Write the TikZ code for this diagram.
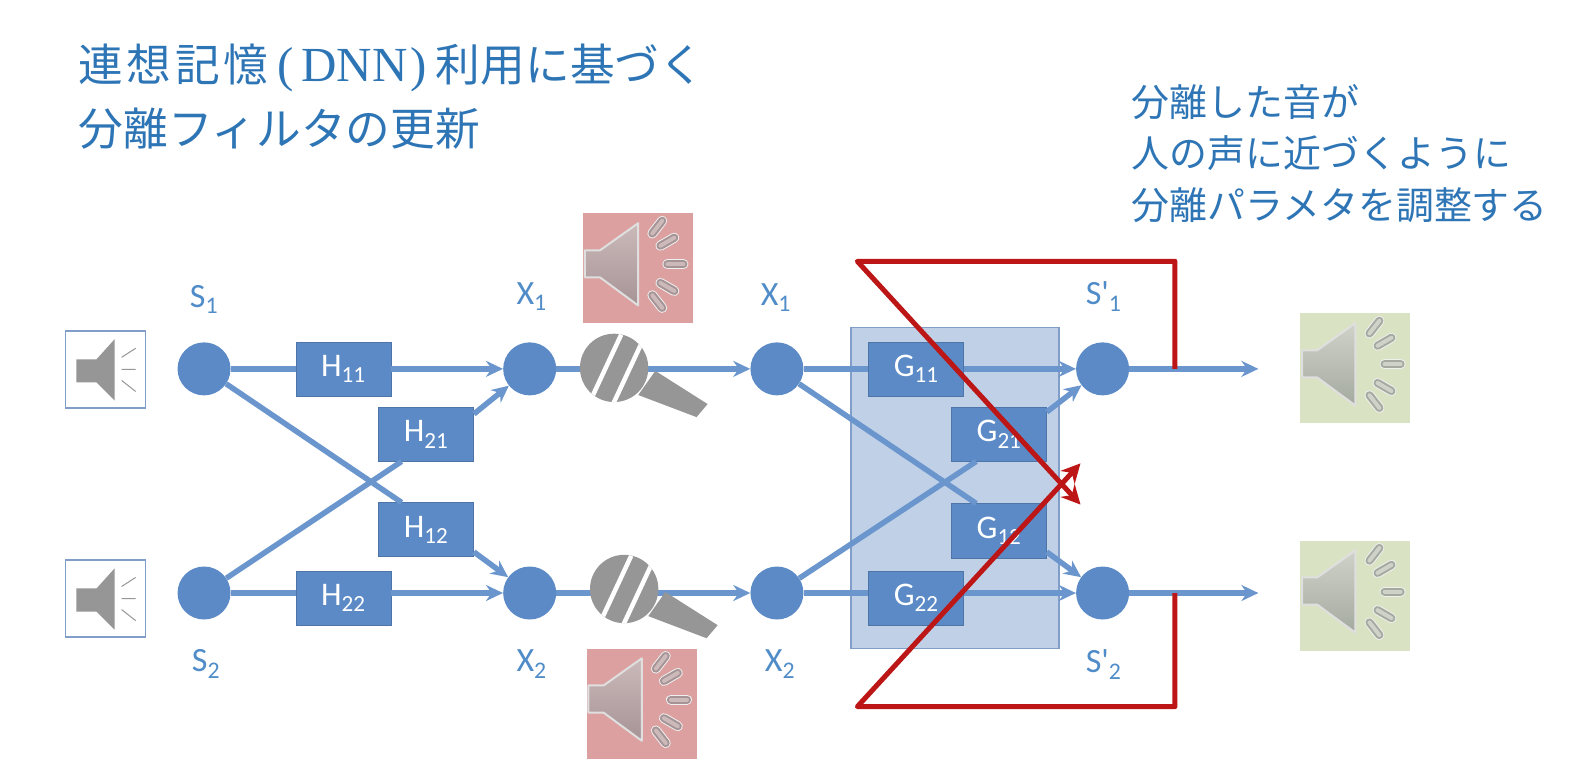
\documentclass[tikz,border=0pt]{standalone}
\usepackage{fontspec}
\setmainfont{Carlito}
\newfontfamily\cjk{Noto Sans CJK JP}
\newfontfamily\cjkwide[LetterSpace=8]{Noto Sans CJK JP}
\newfontfamily\titleser{Liberation Serif}
\usepackage{tikz}
\usetikzlibrary{arrows.meta}
\definecolor{node}{RGB}{91, 138, 198}
\definecolor{wire}{RGB}{107, 150, 205}
\definecolor{panel}{RGB}{192, 209, 231}
\definecolor{panelline}{RGB}{128, 158, 200}
\definecolor{heading}{RGB}{46, 117, 182}
\definecolor{lab}{RGB}{80, 140, 200}
\definecolor{redline}{RGB}{188, 22, 22}
\definecolor{pink}{RGB}{220, 160, 160}
\definecolor{sage}{RGB}{218, 226, 196}
\definecolor{gry}{RGB}{150, 150, 150}
\definecolor{conetopa}{RGB}{204, 186, 186}
\definecolor{conebota}{RGB}{165, 147, 150}
\definecolor{conetopb}{RGB}{207, 210, 200}
\definecolor{conebotb}{RGB}{165, 170, 160}

\begin{document}
\begin{tikzpicture}[
   x=1.005pt, y=-1.005pt,
   circ/.style={circle, fill=node, inner sep=0, minimum size=53},
   blk/.style={rectangle, fill=node, draw=node!85!black, text=white, inner sep=0,
               minimum height=54, minimum width=95, font=\fontsize{33}{35}\selectfont},
   lab/.style={text=lab, inner sep=0, font=\fontsize{34}{36}\selectfont},
   title/.style={text=heading, inner sep=0, anchor=west, font=\cjk\fontsize{44.7}{47}\selectfont},
   note/.style={text=heading, inner sep=0, anchor=west, font=\cjk\fontsize{37.9}{40}\selectfont},
   spkbox/.style={rectangle, draw=panelline, fill=white, line width=1.5, minimum width=80, minimum height=77},
   tile/.style={rectangle, inner sep=0, minimum size=110},
   conn/.style={draw=wire, line width=5.5},
   flow/.style={conn, -{Stealth[length=17pt, width=16pt]}},
   fb/.style={draw=redline, line width=5, line join=round},
   fbtip/.style={-{Stealth[length=19pt, width=19pt]}},
   pics/smallspk/.style={code={
     \fill[gry] (-29,-10) -- (-9,-10) -- (9,-30) -- (9,31) -- (-9,13) -- (-29,13) -- cycle;
     \draw[gry, line width=1] (16,-12) -- (30,-21) (16,0) -- (30,0) (16,11) -- (30,22);
   }},
   pics/bigspk/.style 2 args={code={
     \draw[white!70!gry, line width=2, top color=#1, bottom color=#2, line join=round]
       (-53,-18) -- (-38,-18) -- (0,-45) -- (0,37) -- (-38,9) -- (-53,9) -- cycle;
     \foreach \a/\r in {-52/47, -30/45, 0/47, 30/45, 52/47} {
       \draw[white!85!gry, line width=10, line cap=round] ([shift={(-10,-4)}]\a:\r-8) -- ([shift={(-10,-4)}]\a:\r+8);
       \draw[#2, line width=8, line cap=round] ([shift={(-10,-4)}]\a:\r-8) -- ([shift={(-10,-4)}]\a:\r+8);
       \draw[#1, line width=4, line cap=round] ([shift={(-10,-4)}]\a:\r-8) -- ([shift={(-10,-4)}]\a:\r+8);
     }
   }},
   pics/mic/.style={code={
     \fill[gry] (41,3) -- (93,36) -- (82,49) -- (24,27) -- cycle;
     \fill[gry] (0,0) circle (34);
     \begin{scope}
       \clip (0,0) circle (34);
       \draw[white, line width=4.5] (-21,27) -- (7,-33) (-1,36) -- (27,-24);
     \end{scope}
   }}
  ]
  \useasboundingbox (0,0) rectangle (1568,770);

  % Heading
  \node (T1) at (78,68) [title] {{\cjkwide\fontsize{44.7}{47}\selectfont 連想記憶}\hspace{9pt}{\titleser\fontsize{49}{52}\selectfont (\hspace{8pt}DNN\hspace{3pt})}\hspace{9pt}利用に基づく};
  \node (T2) at (78,128) [title] {分離フィルタの更新};
  \node (N1) at (1126,102) [note] {分離した音が};
  \node (N2) at (1126,152) [note] {人の声に近づくように};
  \node (N3) at (1126,204) [note] {分離パラメタを調整する};

  % Panel behind G
  \node (P) at (950,485.5) [rectangle, fill=panel, draw=panelline, line width=1.5, minimum width=208, minimum height=321] {};

  % Sources and junctions
  \foreach \n/\x/\y in {S1/203/367, S2/203/590, XA/527/367, XB/527/590, XC/773/367, XD/773/590, YA/1097/367, YB/1097/590} {
    \node (\n) at (\x,\y) [circ] {};
  }

  \node (H11) at (341.5,367) [blk] {H\textsubscript{11}};
  \node (H21) at (424,432) [blk] {H\textsubscript{21}};
  \node (H12) at (424,527) [blk] {H\textsubscript{12}};
  \node (H22) at (341.5,595) [blk] {H\textsubscript{22}};
  \node (G11) at (911.5,367) [blk] {G\textsubscript{11}};
  \node (G21) at (994,432) [blk] {G\textsubscript{21}};
  \node (G12) at (994,528) [blk] {G\textsubscript{12}};
  \node (G22) at (911.5,595) [blk] {G\textsubscript{22}};

  \node (LS1) at (203,298) [lab] {S\textsubscript{1}};
  \node (LS2) at (205,661) [lab] {S\textsubscript{2}};
  \node (LX1) at (529,295) [lab] {X\textsubscript{1}};
  \node (LX2) at (529,661) [lab] {X\textsubscript{2}};
  \node (LX3) at (772,296) [lab] {X\textsubscript{1}};
  \node (LX4) at (776,661) [lab] {X\textsubscript{2}};
  \node (LY1) at (1098,295) [lab] {S\textquotesingle\textsubscript{1}};
  \node (LY2) at (1098,661) [lab] {S\textquotesingle\textsubscript{2}};

  \coordinate (OA) at (1252,367);
  \coordinate (OB) at (1252,590);

  % Wires
  \draw[conn] (S1) -- (H11);
  \draw[flow] (H11) -- (XA);
  \draw[conn] (S1) -- (H12.132);
  \draw[flow] (H12.-25) -- (XB);
  \draw[conn] (S2) -- (H21.228);
  \draw[flow] (H21.23) -- (XA);
  \draw[conn] (S2) -- (S2 -| H22.west);
  \draw[flow] (S2 -| H22.east) -- (XB);
  \draw[flow] (XA) -- (XC);
  \draw[flow] (XB) -- (XD);
  \draw[conn] (XC) -- (G11);
  \draw[flow] (G11) -- (YA);
  \draw[conn] (XC) -- (G12.130);
  \draw[flow] (G12.-24) -- (YB);
  \draw[conn] (XD) -- (G21.230);
  \draw[flow] (G21.25) -- (YA);
  \draw[conn] (XD) -- (XD -| G22.west);
  \draw[flow] (XD -| G22.east) -- (YB);
  \draw[flow] (YA) -- (OA);
  \draw[flow] (YB) -- (OB);

  % Speakers and mics
  \node (SA) at (105,367.5) [spkbox] {};
  \node (SB) at (105,595.5) [spkbox] {};
  \pic at (SA) {smallspk};
  \pic at (SB) {smallspk};

  \node (PA) at (635,267) [tile, fill=pink] {};
  \node (PB) at (638.5,700) [tile, fill=pink] {};
  \node (QA) at (1348.5,366.5) [tile, fill=sage] {};
  \node (QB) at (1348.5,592.5) [tile, fill=sage] {};
  \pic at (PA) {bigspk={conetopa}{conebota}};
  \pic at (PB) {bigspk={conetopa}{conebota}};
  \pic at (QA) {bigspk={conetopb}{conebotb}};
  \pic at (QB) {bigspk={conetopb}{conebotb}};

  \pic at (611,366) {mic};
  \pic at (621,586) {mic};

  % Feedback
  \coordinate (RA) at (1169,367);
  \coordinate (RB) at (1169,590);
  \coordinate (RC) at (1075,502);
  \coordinate (RD) at (1075,461);
  \draw[fb, fbtip] (RA) -- (RA |- 0,260) -- (853,260) -- (RC);
  \draw[fb, fbtip] (RB) -- (RB |- 0,703) -- (853,703) -- (RD);

\end{tikzpicture}
\end{document}
